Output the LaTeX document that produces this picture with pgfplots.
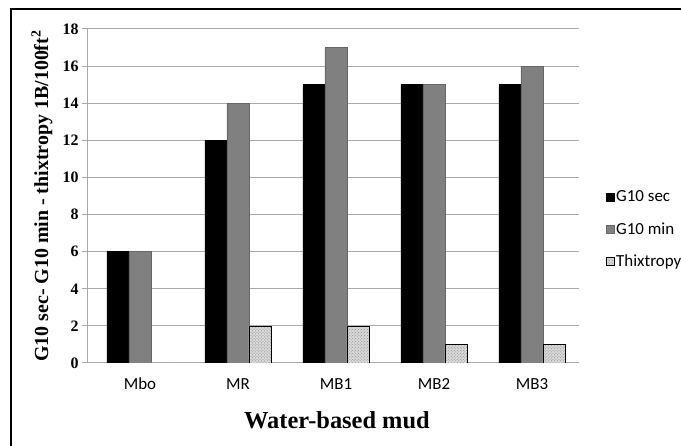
\documentclass[border=0pt]{standalone}
\usepackage{pgfplots}
\pgfplotsset{compat=1.18}
\usepackage{fontspec}
\setmainfont{Liberation Serif}
\newfontfamily\calib{Carlito}
\usetikzlibrary{patterns}

\definecolor{barblack}{RGB}{0,0,0}
\definecolor{bargray}{RGB}{128,128,128}
\definecolor{gridgray}{RGB}{170,170,170}

\begin{document}
\begin{tikzpicture}[x=1bp,y=1bp]
\useasboundingbox (0,0) rectangle (681,446);
\draw[line width=1.8bp] (11,-5) -- (11,437) -- (690,437);
\begin{axis}[
  at={(87bp,83bp)}, anchor=south west,
  scale only axis, width=492bp, height=334bp,
  ybar=0pt, bar width=22bp,
  xmin=-0.54, xmax=4.48,
  ymin=0, ymax=18,
  ytick={0,2,...,18},
  xtick={0,1,2,3,4},
  xticklabels={Mbo,MR,MB1,MB2,MB3},
  axis x line*=bottom, axis y line*=left,
  axis line style={gridgray, line width=1bp},
  x axis line style={-}, y axis line style={-},
  ymajorgrids, grid style={gridgray, line width=1bp},
  major x tick style={draw=none},
  major y tick style={gridgray, line width=1bp},
  tick align=outside, major tick length=5bp,
  xticklabel style={font=\calib\fontsize{17}{17}\selectfont, anchor=base, yshift=-22bp},
  yticklabel style={font=\fontsize{16}{16}\selectfont\bfseries},
  /pgf/number format/assume math mode=true,
  xlabel={Water-based mud},
  xlabel style={font=\fontsize{24.5}{24.5}\selectfont\bfseries, at={(axis description cs:0.508,-0.171)}, anchor=center},
  ylabel={G10 sec- G10 min - thixtropy 1B/100ft\textsuperscript{2}},
  ylabel style={font=\fontsize{20}{20}\selectfont\bfseries, at={(axis description cs:-0.0915,0.5)}, anchor=center},
  legend style={draw=none, fill=none, at={(axis description cs:1.048,0.40)}, anchor=west,
    font=\calib\fontsize{17}{17}\selectfont, row sep=15bp, cells={anchor=west}},
  legend image code/.code={\draw[#1] (0bp,-4bp) rectangle (8bp,4bp);},
]
\addplot[fill=barblack, draw=black] coordinates {(0,6) (1,12) (2,15) (3,15) (4,15)};
\addplot[fill=bargray, draw=black!60] coordinates {(0,6) (1,14) (2,17) (3,15) (4,16)};
\addplot[fill=black!15, draw=black, postaction={pattern=crosshatch dots, pattern color=black!45}] coordinates {(0,0) (1,2) (2,2) (3,1) (4,1)};
\legend{G10 sec, G10 min, Thixtropy}
\end{axis}
\end{tikzpicture}
\end{document}
